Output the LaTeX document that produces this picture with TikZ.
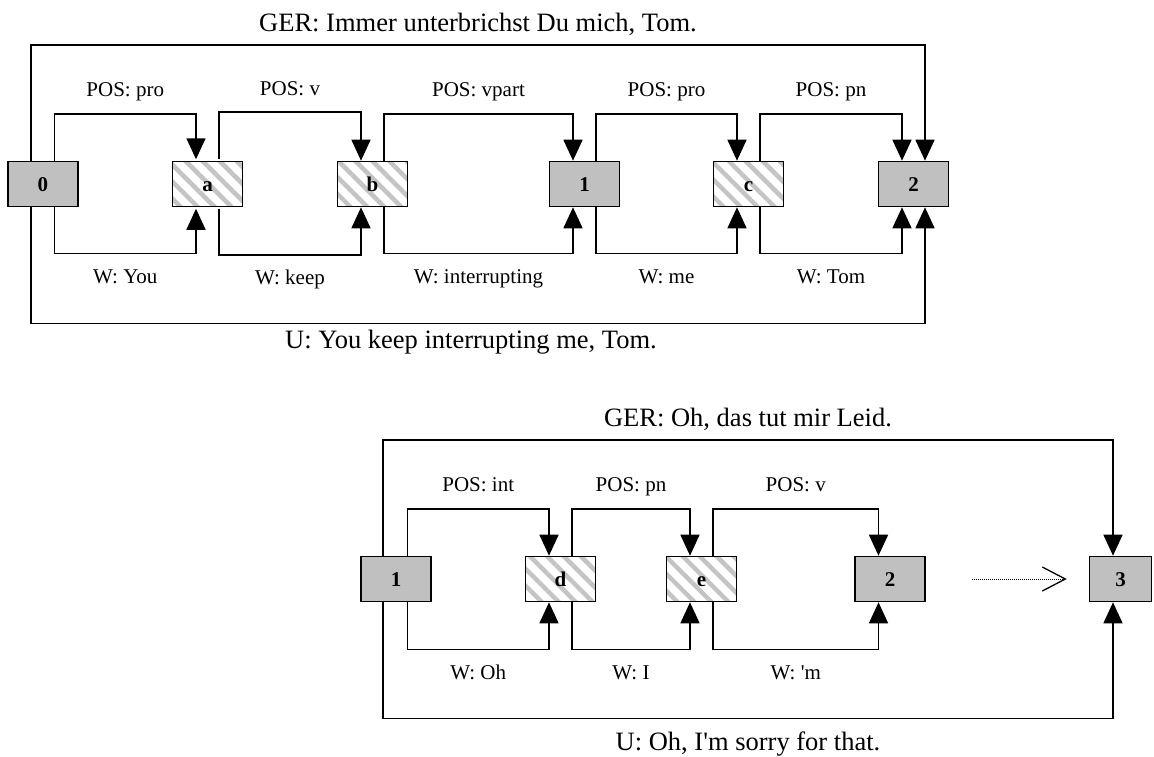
\documentclass[tikz,border=0pt]{standalone}
\usepackage{fontspec}
\setmainfont{Liberation Serif}[Ligatures=TeXOff]
\usetikzlibrary{arrows.meta,patterns.meta,calc}
\definecolor{boxgray}{RGB}{192,192,192}
\definecolor{stripegray}{RGB}{196,196,196}
\tikzset{
  statebox/.style={draw, line width=1.6pt, minimum width=70pt, minimum height=45pt, inner sep=0pt,
    text height=15pt, text depth=0pt,
    font=\fontsize{21}{24}\selectfont\bfseries},
  solidbox/.style={statebox, fill=boxgray},
  hatchbox/.style={statebox, pattern={Lines[angle=-45,distance=12pt,line width=4.5pt]}, pattern color=stripegray},
  conn/.style={line width=1.6pt, -{Triangle[length=21pt,width=19pt]}},
  smalllab/.style={inner sep=0pt, text height=15pt, text depth=5pt, font=\fontsize{21}{24}\selectfont},
  biglab/.style={inner sep=0pt, text height=19pt, text depth=6pt, font=\fontsize{26.5}{30}\selectfont},
  poslab/.style={smalllab, yshift=22pt},
  wlab/.style={smalllab, yshift=-25pt},
  gerlab/.style={biglab, yshift=19.5pt},
  ulab/.style={biglab, yshift=-25.5pt},
}
\begin{document}
\begin{tikzpicture}[x=1pt,y=-1pt]
\useasboundingbox (0,0) rectangle (1154,756);
% ---------- top lattice ----------
\node[solidbox] (t0) at (43,184) {0};
\node[hatchbox] (ta) at (207.5,184) {a};
\node[hatchbox] (tb) at (372.5,184) {b};
\node[solidbox] (t1) at (584.5,184) {1};
\node[hatchbox] (tc) at (748.5,184) {c};
\node[solidbox] (t2) at (913.5,184) {2};
% POS edges
\draw[conn] ([xshift=11.5pt]t0.north) -- ++(0,-47) -| node[poslab,pos=0.25] (tp1) {POS: pro} ([xshift=-11.5pt]ta.north);
\draw[conn] ([xshift=11.5pt]ta.north) -- ++(0,-47) -| node[poslab,pos=0.25] (tp2) {POS: v} ([xshift=-11.5pt]tb.north);
\draw[conn] ([xshift=11.5pt]tb.north) -- ++(0,-47) -| node[poslab,pos=0.25] (tp3) {POS: vpart} ([xshift=-11.5pt]t1.north);
\draw[conn] ([xshift=11.5pt]t1.north) -- ++(0,-47) -| node[poslab,pos=0.25] (tp4) {POS: pro} ([xshift=-11.5pt]tc.north);
\draw[conn] ([xshift=11.5pt]tc.north) -- ++(0,-47) -| node[poslab,pos=0.25] (tp5) {POS: pn} ([xshift=-11.5pt]t2.north);
% W edges
\draw[conn] ([xshift=11.5pt]t0.south) -- ++(0,46) -| node[wlab,pos=0.25] (tw1) {W: You} ([xshift=-11.5pt]ta.south);
\draw[conn] ([xshift=11.5pt]ta.south) -- ++(0,46) -| node[wlab,pos=0.25] (tw2) {W: keep} ([xshift=-11.5pt]tb.south);
\draw[conn] ([xshift=11.5pt]tb.south) -- ++(0,46) -| node[wlab,pos=0.25] (tw3) {W: interrupting} ([xshift=-11.5pt]t1.south);
\draw[conn] ([xshift=11.5pt]t1.south) -- ++(0,46) -| node[wlab,pos=0.25] (tw4) {W: me} ([xshift=-11.5pt]tc.south);
\draw[conn] ([xshift=11.5pt]tc.south) -- ++(0,46) -| node[wlab,pos=0.25] (tw5) {W: Tom} ([xshift=-11.5pt]t2.south);
% GER / U edges
\draw[conn] ([xshift=-12pt]t0.north) -- ++(0,-116) -| node[gerlab,pos=0.25] (tger) {GER: Immer unterbrichst Du mich, Tom.} ([xshift=11.5pt]t2.north);
\draw[conn] ([xshift=-12pt]t0.south) -- ++(0,116) -| node[ulab,pos=0.25,yshift=7pt,xshift=-7pt] (tu) {U: You keep interrupting me, Tom.} ([xshift=11.5pt]t2.south);
% ---------- bottom lattice ----------
\node[solidbox] (b1) at (396,579) {1};
\node[hatchbox] (bd) at (560.5,579) {d};
\node[hatchbox] (be) at (701.5,579) {e};
\node[solidbox] (b2) at (890,579) {2};
\node[solidbox, minimum width=62pt] (b3) at (1120.5,579) {3};
% POS edges
\draw[conn] ([xshift=11.5pt]b1.north) -- ++(0,-47) -| node[poslab,pos=0.25] (bp1) {POS: int} ([xshift=-11.5pt]bd.north);
\draw[conn] ([xshift=11.5pt]bd.north) -- ++(0,-47) -| node[poslab,pos=0.25] (bp2) {POS: pn} ([xshift=-11.5pt]be.north);
\draw[conn] ([xshift=11.5pt]be.north) -- ++(0,-47) -| node[poslab,pos=0.25] (bp3) {POS: v} ([xshift=-11.5pt]b2.north);
% W edges
\draw[conn] ([xshift=11.5pt]b1.south) -- ++(0,47) -| node[wlab,pos=0.25] (bw1) {W: Oh} ([xshift=-11.5pt]bd.south);
\draw[conn] ([xshift=11.5pt]bd.south) -- ++(0,47) -| node[wlab,pos=0.25] (bw2) {W: I} ([xshift=-11.5pt]be.south);
\draw[conn] ([xshift=11.5pt]be.south) -- ++(0,47) -| node[wlab,pos=0.25] (bw3) {W: 'm} ([xshift=-11.5pt]b2.south);
% GER / U edges
\draw[conn] ([xshift=-13pt]b1.north) -- ++(0,-116) -| node[gerlab,pos=0.25] (bger) {GER: Oh, das tut mir Leid.} ([xshift=-7.5pt]b3.north);
\draw[conn] ([xshift=-13pt]b1.south) -- ++(0,116) -| node[ulab,pos=0.25] (bu) {U: Oh, I'm sorry for that.} ([xshift=-7.5pt]b3.south);
% dotted continuation
\draw[line width=1pt, dash pattern=on 1pt off 1pt, -{Straight Barb[length=23pt,width=24pt,line width=1.3pt]}]
  ([xshift=46pt]b2.east) -- ([xshift=-22pt]b3.west);
\end{tikzpicture}
\end{document}
